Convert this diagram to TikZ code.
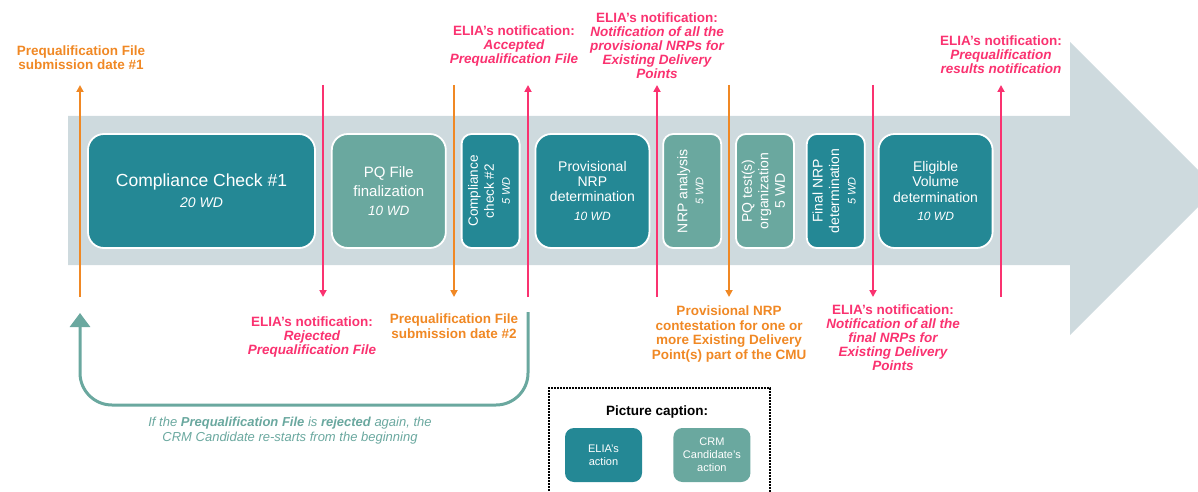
\documentclass[tikz,border=0pt]{standalone}
\usepackage{fontspec}
\setmainfont{Liberation Sans}
\usepackage{graphicx}
\usetikzlibrary{calc,positioning,arrows.meta}

\definecolor{eliateal}{RGB}{36,136,149}
\definecolor{crmteal}{RGB}{106,168,159}
\definecolor{bandgrey}{RGB}{206,218,222}
\definecolor{eliapink}{RGB}{250,50,112}
\definecolor{pqorange}{RGB}{240,136,36}

\newcommand{\setfs}[2]{\fontsize{#1}{#2}\selectfont}
\newcommand{\rotlines}[1]{\rotatebox{90}{\begin{tabular}{@{}c@{}}#1\end{tabular}}}

\tikzset{
  >={Triangle[length=7pt,width=7pt]},
  actbox/.style={
    rectangle,
    rounded corners=16pt,
    draw=white, line width=1.8pt,
    text=white,
    align=center,
    minimum height=114pt,
    inner sep=2pt
  },
  elia/.style={actbox, fill=eliateal},
  crm/.style={actbox, fill=crmteal},
  wide/.style={minimum width=114pt},
  narrow/.style={minimum width=58pt, rounded corners=10pt},
  pinkline/.style={draw=eliapink, line width=2pt},
  orangeline/.style={draw=pqorange, line width=2pt},
  crmline/.style={draw=crmteal, line width=3pt},
  notif/.style={text=eliapink, font=\bfseries\setfs{13.5}{14}, align=center, inner sep=0pt},
  pqdate/.style={text=pqorange, font=\bfseries\setfs{13.5}{14.5}, align=center, inner sep=0pt},
  keybox/.style={
    rounded corners=9pt,
    minimum width=77pt, minimum height=54pt,
    text=white, align=center,
    font=\setfs{11}{13}
  },
}

\begin{document}
\begin{tikzpicture}[x=1pt,y=-1pt]
  \useasboundingbox (0,0) rectangle (1198,492);

  % the big grey time arrow
  \fill[bandgrey] (68,116) -- (1070,116) -- (1070,42) -- (1198,170)
    -- (1198,207) -- (1070,335) -- (1070,265) -- (68,265) -- cycle;

  % steps
  \node[elia, minimum width=227pt, font=\setfs{17.5}{21}] (cc1) at (201.5,191)
    {Compliance Check \#1\\\itshape\setfs{14}{21}20 WD};
  \node[crm, wide, font=\setfs{15}{19}, right=15pt of cc1] (pqf)
    {PQ File\\finalization\\\itshape\setfs{13.5}{19}10 WD};
  \node[elia, narrow, font=\setfs{13.5}{16}, right=14pt of pqf] (cc2)
    {\rotlines{Compliance\\check \#2\\\itshape\setfs{11}{14}5 WD}};
  \node[elia, wide, font=\setfs{14}{15}, right=14pt of cc2] (pnrp)
    {Provisional\\NRP\\determination\\[4pt]\itshape\setfs{12}{15}10 WD};
  \node[crm, narrow, font=\setfs{14}{16}, right=12pt of pnrp] (nrpa)
    {\rotlines{NRP analysis\\\itshape\setfs{11}{14}5 WD}};
  \node[crm, narrow, font=\setfs{14}{16.5}, right=13pt of nrpa] (pqt)
    {\rotlines{PQ test(s)\\organization\\5 WD}};
  \node[elia, narrow, font=\setfs{14}{16.5}, right=11pt of pqt] (fnrp)
    {\rotlines{Final NRP\\determination\\\itshape\setfs{11}{14}5 WD}};
  \node[elia, wide, font=\setfs{14}{15.5}, right=12pt of fnrp] (evd)
    {Eligible\\Volume\\determination\\[3pt]\itshape\setfs{12}{15}10 WD};

  % milestones
  \coordinate (top) at (0,85);
  \coordinate (bot) at (0,297);
  \coordinate (m1) at (80,0);
  \coordinate (m2) at (323,0);
  \coordinate (m3) at (454,0);
  \coordinate (m4) at (528,0);
  \coordinate (m5) at (657,0);
  \coordinate (m6) at (729,0);
  \coordinate (m7) at (873,0);
  \coordinate (m8) at (1001,0);

  \draw[orangeline, ->] (m1 |- bot) -- (m1 |- top);
  \draw[pinkline, ->] (m2 |- top) -- (m2 |- bot);
  \draw[orangeline, ->] (m3 |- top) -- (m3 |- bot);
  \draw[pinkline, ->] (m4 |- bot) -- (m4 |- top);
  \draw[pinkline, ->] (m5 |- bot) -- (m5 |- top);
  \draw[orangeline, ->] (m6 |- top) -- (m6 |- bot);
  \draw[pinkline, ->] (m7 |- top) -- (m7 |- bot);
  \draw[pinkline, ->] (m8 |- bot) -- (m8 |- top);

  % labels above
  \node[pqdate, anchor=south] (sub1) at ($(m1 |- top)+(1,-15)$)
    {Prequalification File\\submission date \#1};
  \node[notif, anchor=south] (accepted) at ($(m4 |- top)+(-14,-18)$)
    {ELIA’s notification:\\\itshape Accepted\\\itshape Prequalification File};
  \node[notif, anchor=south] (provnrp) at ($(m5 |- top)+(0,-6)$)
    {ELIA’s notification:\\\itshape Notification of all the\\\itshape provisional NRPs for\\
     \itshape Existing Delivery\\\itshape Points};
  \node[notif, anchor=south] (results) at ($(m8 |- top)+(0,-11)$)
    {ELIA’s notification:\\\itshape Prequalification\\\itshape results notification};

  % labels below
  \node[notif, anchor=north] (rejected) at ($(m2 |- bot)+(-11,20)$)
    {ELIA’s notification:\\\itshape Rejected\\\itshape Prequalification File};
  \node[pqdate, anchor=north] (sub2) at ($(m3 |- bot)+(0,17)$)
    {Prequalification File\\submission date \#2};
  \node[pqdate, anchor=north] (contest) at ($(m6 |- bot)+(0,9)$)
    {Provisional NRP\\contestation for one or\\more Existing Delivery\\Point(s) part of the CMU};
  \node[notif, anchor=north] (finalnrp) at ($(m7 |- bot)+(20,8)$)
    {ELIA’s notification:\\\itshape Notification of all the\\\itshape final NRPs for\\
     \itshape Existing Delivery\\\itshape Points};

  % loop back to the start
  \coordinate (retfrom) at ($(m4 |- bot)+(0,15)$);
  \coordinate (retto) at ($(m1 |- bot)+(0,16)$);
  \draw[crmline, rounded corners=32pt, -{Triangle[length=14pt,width=20pt]}]
    (retfrom) -- (retfrom |- 0,405) -- (retto |- 0,405) -- (retto);
  \node[text=crmteal, font=\itshape\setfs{13}{15}, align=center] (again) at (290,431)
    {If the \textbf{Prequalification File} is \textbf{rejected} again, the\\
     \itshape CRM Candidate re-starts from the beginning};

  % caption
  \draw[line width=1.8pt, dash pattern=on 1.6pt off 1.4pt]
    (549,494) -- (549,388) -- (770,388) -- (770,494);
  \node[font=\bfseries\setfs{13.5}{16}] (captitle) at (657,412) {Picture caption:};
  \node[keybox, fill=eliateal] (eliakey) at (603.5,455) {ELIA’s\\action};
  \node[keybox, fill=crmteal, right=31pt of eliakey] (crmkey) {CRM\\Candidate’s\\action};
\end{tikzpicture}
\end{document}
